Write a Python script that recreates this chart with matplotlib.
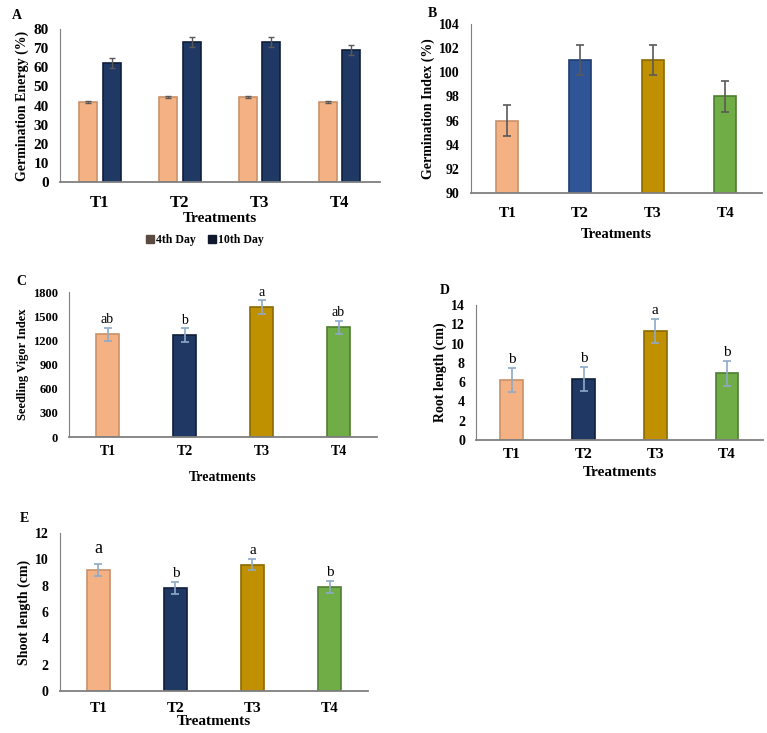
import numpy as np
import matplotlib
matplotlib.use('Agg')
import matplotlib.pyplot as plt
from matplotlib.lines import Line2D

plt.rcParams['font.family'] = ['Liberation Serif', 'DejaVu Serif']

treatments = ['T1', 'T2', 'T3', 'T4']

# A - germination energy (%)
ge_4th = [42, 44.5, 44.5, 42]
ge_4th_err = [0.6, 0.6, 0.6, 0.6]
ge_10th = [62, 73, 73, 69]
ge_10th_err = [2.6, 2.6, 2.6, 2.6]

# B - germination index (%)
gi = [96, 101, 101, 98]
gi_err = [1.25, 1.25, 1.25, 1.25]

# C - seedling vigor index
svi = [1275, 1265, 1610, 1365]
svi_err = [80, 85, 85, 80]
svi_letters = ['ab', 'b', 'a', 'ab']

# D - root length (cm)
root = [6.2, 6.3, 11.3, 6.9]
root_err = [1.25, 1.25, 1.25, 1.25]
root_letters = ['b', 'b', 'a', 'b']

# E - shoot length (cm)
shoot = [9.2, 7.85, 9.6, 7.9]
shoot_err = [0.45, 0.45, 0.45, 0.45]
shoot_letters = ['a', 'b', 'a', 'b']

cores_bd = ['#F4B183', '#2F5597', '#BF9000', '#70AD47']
bordas_bd = ['#C9916A', '#1F3C70', '#8C6A00', '#4E7F31']
cores_cde = ['#F4B183', '#1F3864', '#BF9000', '#70AD47']
bordas_cde = ['#C9916A', '#101F3C', '#8C6A00', '#4E7F31']
cor_erro_escuro = '#595959'
cor_erro_claro = '#8EA9C8'


def estilo_eixo(ax, ylim, yticks, fs_tick, fs_ylabel, ylabel, xpad, ypad=8):
    # estilo parecido com grafico do Excel
    ax.set_xlim(-0.5, 3.5)
    ax.set_ylim(*ylim)
    ax.set_yticks(yticks)
    ax.set_xticks(range(4))
    ax.set_xticklabels(treatments, fontsize=fs_tick + 1, fontweight='bold')
    for lab in ax.get_yticklabels():
        lab.set_fontsize(fs_tick)
        lab.set_fontweight('bold')
    ax.spines['top'].set_visible(False)
    ax.spines['right'].set_visible(False)
    ax.spines['left'].set_color('#7F7F7F')
    ax.spines['bottom'].set_color('#7F7F7F')
    ax.spines['bottom'].set_linewidth(1.3)
    ax.tick_params(axis='x', length=0, pad=xpad)
    ax.tick_params(axis='y', length=0, pad=ypad)
    ax.set_ylabel(ylabel, fontsize=fs_ylabel, fontweight='bold', labelpad=3)


def barras_simples(ax, valores, erros, largura, cores, bordas, cor_erro):
    x = np.arange(len(valores))
    ax.bar(x, valores, largura, color=cores, edgecolor=bordas, linewidth=1.2)
    ax.errorbar(x, valores, yerr=erros, fmt='none', ecolor=cor_erro,
                elinewidth=1.2, capsize=3, capthick=1.2)


def letras(ax, valores, erros, textos, offset, fs):
    for i, (v, e, t) in enumerate(zip(valores, erros, textos)):
        ax.text(i, v + e + offset, t, ha='center', va='bottom', fontsize=fs)


fig = plt.figure(figsize=(7.67, 7.33), dpi=100)

# ---- painel A
axA = fig.add_axes([0.0782, 0.7517, 0.417, 0.2087])
x = np.arange(4)
axA.bar(x - 0.145, ge_4th, 0.225, color='#F4B183', edgecolor='#C9916A', linewidth=1.2)
axA.bar(x + 0.145, ge_10th, 0.225, color='#1F3864', edgecolor='#101F3C', linewidth=1.2)
axA.errorbar(x - 0.145, ge_4th, yerr=ge_4th_err, fmt='none', ecolor=cor_erro_escuro,
             elinewidth=1, capsize=2.5)
axA.errorbar(x + 0.145, ge_10th, yerr=ge_10th_err, fmt='none', ecolor=cor_erro_escuro,
             elinewidth=1, capsize=2.5)
estilo_eixo(axA, (0, 80), range(0, 81, 10), 11, 10, 'Germination Energy (%)', xpad=9)
axA.set_xlabel('Treatments', fontsize=11, fontweight='bold', labelpad=1)
handles = [Line2D([], [], marker='s', ls='none', color='#5A4A42', markersize=6),
           Line2D([], [], marker='s', ls='none', color='#10182E', markersize=6)]
fig.legend(handles, ['4th Day', '10th Day'], loc='center', bbox_to_anchor=(0.267, 0.673),
           ncol=2, frameon=False, prop={'weight': 'bold', 'size': 8.5},
           handletextpad=0.1, columnspacing=1.0, handlelength=0.8)
fig.text(0.016, 0.988, 'A', fontsize=10, fontweight='bold', va='top')

# ---- painel B
axB = fig.add_axes([0.614, 0.7367, 0.379, 0.2306])
barras_simples(axB, gi, gi_err, 0.3, cores_bd, bordas_bd, cor_erro_escuro)
estilo_eixo(axB, (90, 104), range(90, 105, 2), 10, 10, 'Germination Index (%)', xpad=10)
axB.set_xlabel('Treatments', fontsize=10.5, fontweight='bold', labelpad=6)
fig.text(0.558, 0.99, 'B', fontsize=10, fontweight='bold', va='top')

# ---- painel C
axC = fig.add_axes([0.09, 0.4038, 0.4016, 0.1978])
barras_simples(axC, svi, svi_err, 0.31, cores_cde, bordas_cde, cor_erro_claro)
letras(axC, svi, svi_err, svi_letters, 20, 10)
estilo_eixo(axC, (0, 1800), range(0, 1801, 300), 9, 9, 'Seedling Vigor Index', xpad=6)
axC.set_xlabel('Treatments', fontsize=10, fontweight='bold', labelpad=9)
fig.text(0.022, 0.625, 'C', fontsize=10, fontweight='bold', va='top')

# ---- painel D
axD = fig.add_axes([0.6206, 0.3997, 0.374, 0.1842])
barras_simples(axD, root, root_err, 0.32, cores_cde, bordas_cde, cor_erro_claro)
letras(axD, root, root_err, root_letters, 0.2, 11)
estilo_eixo(axD, (0, 14), range(0, 15, 2), 10, 10, 'Root length (cm)', xpad=6)
axD.set_xlabel('Treatments', fontsize=11, fontweight='bold', labelpad=3)
fig.text(0.573, 0.612, 'D', fontsize=10, fontweight='bold', va='top')

# ---- painel E
axE = fig.add_axes([0.0782, 0.0573, 0.4016, 0.2156])
barras_simples(axE, shoot, shoot_err, 0.31, cores_cde, bordas_cde, cor_erro_claro)
letras(axE, shoot, shoot_err, shoot_letters, 0.15, 11)
axE.texts[0].set_fontsize(13)
axE.texts[0].set_y(shoot[0] + shoot_err[0] + 0.5)
estilo_eixo(axE, (0, 12), range(0, 13, 2), 10, 10, 'Shoot length (cm)', xpad=8)
axE.set_xlabel('Treatments', fontsize=11, fontweight='bold', labelpad=0)
fig.text(0.026, 0.302, 'E', fontsize=10, fontweight='bold', va='top')

fig.savefig('out.png', dpi=100)
